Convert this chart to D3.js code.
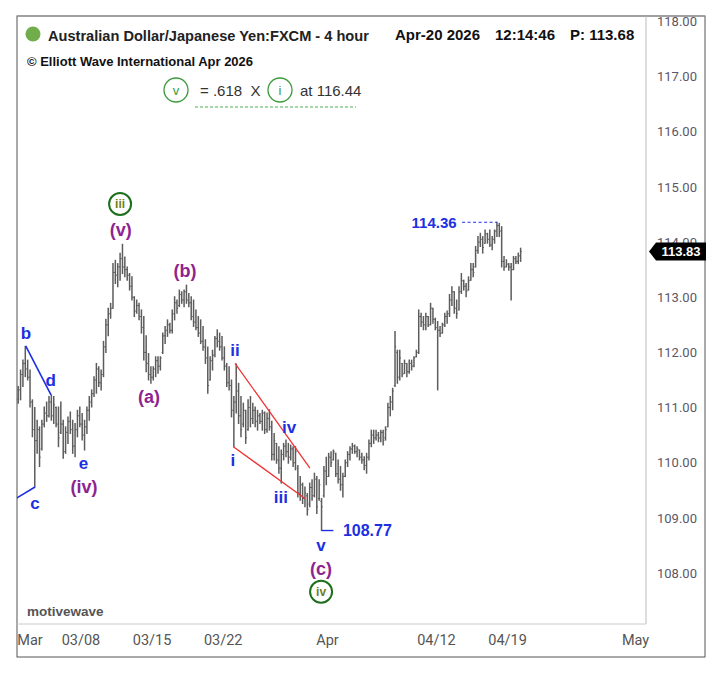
<!DOCTYPE html>
<html>
<head>
<meta charset="utf-8">
<script src="https://cdn.jsdelivr.net/npm/d3@7"></script>
<style>
  body { margin: 0; background: #fff; }
  svg { display: block; }
</style>
</head>
<body>
<div id="chart"></div>
<script>
// AUD/JPY 4 hour bars, one entry per bar
const barOpen = [
  111.15,111.32,111.60,111.80,111.70,111.55,111.10,110.60,110.40,110.60,
  110.25,110.70,110.90,110.85,111.10,110.85,111.00,110.70,110.55,110.70,
  110.20,110.55,110.75,110.60,110.30,110.60,110.85,110.70,110.50,110.65,
  110.95,111.10,111.25,111.50,111.70,111.45,111.60,112.10,112.50,112.70,
  112.80,113.45,113.40,113.55,113.70,113.55,113.50,113.40,113.20,113.00,
  112.75,112.85,112.65,112.45,112.00,111.80,111.60,111.55,111.70,111.85,
  111.75,112.00,112.30,112.40,112.50,112.40,112.70,112.90,112.85,113.05,
  112.95,113.10,112.95,112.90,112.65,112.55,112.45,112.35,112.20,112.10,
  111.90,111.50,111.85,111.95,112.25,112.20,112.10,111.90,111.75,111.45,
  111.40,110.95,111.10,111.30,110.85,110.70,110.95,110.60,111.00,110.80,
  110.95,110.75,110.85,110.75,110.90,110.60,110.80,110.65,110.15,110.35,
  110.05,109.90,110.15,110.30,110.20,110.10,110.25,110.00,109.90,109.45,
  109.60,109.35,109.40,109.25,109.55,109.40,109.70,109.35,109.30,109.40,
  109.85,109.75,110.10,110.05,110.17,109.80,109.70,109.60,109.75,110.00,
  110.15,110.25,110.30,110.20,110.23,110.10,110.05,109.95,110.10,110.35,
  110.50,110.45,110.50,110.45,110.55,110.45,110.65,111.00,111.10,111.40,
  112.00,111.55,111.80,111.62,111.80,111.65,111.80,111.75,111.92,112.00,
  112.65,112.55,112.50,112.65,112.50,112.80,112.60,112.45,112.40,112.35,
  112.50,112.65,112.70,112.95,113.10,112.80,112.77,113.10,113.30,113.20,
  113.13,113.31,113.50,113.55,113.85,114.00,114.05,113.98,114.15,114.05,
  113.95,114.05,114.20,114.30,114.20,113.65,113.55,113.60,113.55,113.50,
  113.70,113.65,113.75
];
const barHigh = [
  111.38,111.68,111.86,112.11,111.86,111.68,111.14,111.00,110.77,110.65,
  110.77,111.01,111.10,111.20,111.23,111.20,111.01,111.01,111.10,110.77,
  110.65,110.83,110.92,110.77,110.71,110.95,111.01,110.89,110.77,111.01,
  111.20,111.32,111.56,111.80,111.74,111.68,112.20,112.60,112.80,112.89,
  113.61,113.67,113.61,113.80,113.96,113.73,113.55,113.43,113.37,113.01,
  112.95,112.89,112.77,112.65,112.30,111.98,111.74,111.74,111.92,111.92,
  111.92,112.35,112.47,112.59,112.53,112.77,113.01,112.95,113.13,113.10,
  113.13,113.22,113.07,113.01,112.95,112.77,112.65,112.59,112.47,112.23,
  112.10,111.92,112.04,112.29,112.41,112.35,112.29,112.10,111.80,111.74,
  111.50,111.20,111.79,111.44,111.20,111.08,110.95,111.14,111.20,111.08,
  111.01,110.95,110.89,110.95,110.92,110.90,110.96,110.75,110.53,110.35,
  110.29,110.23,110.35,110.41,110.35,110.32,110.29,110.29,109.95,109.75,
  109.63,109.56,109.44,109.63,109.69,109.81,109.75,109.69,109.35,109.93,
  110.10,110.17,110.20,110.23,110.17,110.05,109.93,109.81,110.05,110.20,
  110.29,110.35,110.32,110.29,110.23,110.17,110.11,110.17,110.41,110.59,
  110.59,110.59,110.55,110.59,110.59,110.65,111.08,111.20,111.35,112.38,
  112.04,112.04,111.80,111.86,111.80,111.86,111.86,111.92,112.04,112.77,
  112.71,112.65,112.71,112.65,112.89,112.80,112.62,112.56,112.47,112.53,
  112.71,112.75,113.05,113.19,113.10,112.95,113.19,113.43,113.31,113.25,
  113.37,113.61,113.61,113.92,114.10,114.16,114.10,114.22,114.16,114.22,
  114.10,114.22,114.36,114.34,114.28,113.74,113.68,113.61,113.61,113.74,
  113.74,113.80,113.89
];
const barLow = [
  111.08,111.14,111.38,111.56,111.50,111.01,110.47,109.56,110.17,109.93,
  110.23,110.65,110.75,110.83,110.77,110.71,110.65,110.29,110.53,110.08,
  110.17,110.35,110.53,110.17,110.11,110.47,110.65,110.41,110.23,110.53,
  110.77,111.01,111.20,111.26,111.38,111.32,111.56,112.00,112.30,112.62,
  112.80,113.25,113.19,113.31,113.43,113.37,113.31,113.13,112.95,112.65,
  112.71,112.59,112.35,111.86,111.65,111.50,111.44,111.50,111.56,111.62,
  111.68,111.98,112.16,112.29,112.35,112.35,112.59,112.71,112.83,112.89,
  112.83,112.89,112.83,112.59,112.47,112.41,112.29,112.16,112.04,111.80,
  111.26,111.50,111.68,111.92,112.10,112.04,111.86,111.68,111.38,111.32,
  110.83,110.29,110.90,110.71,110.47,110.65,110.35,110.59,110.65,110.71,
  110.65,110.59,110.71,110.59,110.53,110.55,110.59,110.05,110.05,109.99,
  109.81,109.63,110.05,110.11,109.99,110.05,109.93,109.87,109.38,109.32,
  109.26,109.20,109.05,109.20,109.32,109.38,109.08,109.32,108.77,109.38,
  109.60,109.75,109.93,110.05,109.75,109.63,109.50,109.38,109.75,109.93,
  110.05,110.17,110.17,110.11,110.05,109.99,109.87,109.81,110.05,110.29,
  110.35,110.41,110.38,110.38,110.32,110.41,110.65,110.85,110.96,111.38,
  111.44,111.50,111.56,111.62,111.56,111.62,111.68,111.74,111.92,111.98,
  112.47,112.41,112.41,112.47,112.50,112.53,112.41,111.32,112.29,112.35,
  112.47,112.53,112.65,112.85,112.71,112.62,112.77,113.07,113.13,113.01,
  113.13,113.31,113.37,113.55,113.80,113.92,113.80,113.98,113.98,113.92,
  113.86,113.98,114.10,114.10,113.55,113.49,113.55,113.49,112.95,113.50,
  113.61,113.61,113.65
];
const barClose = [
  111.32,111.60,111.80,111.70,111.55,111.10,110.60,110.40,110.60,110.10,
  110.70,110.90,110.85,111.10,110.85,111.05,110.70,110.45,110.70,110.20,
  110.55,110.75,110.60,110.30,110.60,110.85,110.70,110.50,110.65,110.95,
  111.10,111.25,111.50,111.70,111.45,111.60,112.10,112.50,112.70,112.80,
  113.45,113.40,113.55,113.70,113.55,113.50,113.40,113.20,113.00,112.75,
  112.85,112.65,112.45,112.00,111.80,111.60,111.55,111.70,111.85,111.75,
  111.90,112.30,112.40,112.50,112.40,112.70,112.90,112.80,113.05,112.95,
  113.10,112.95,112.90,112.65,112.55,112.45,112.35,112.20,112.10,111.90,
  111.40,111.85,111.95,112.25,112.20,112.10,111.90,111.75,111.45,111.40,
  110.95,111.10,111.30,110.85,110.60,110.95,110.45,111.00,110.80,110.95,
  110.75,110.85,110.75,110.90,110.60,110.80,110.65,110.15,110.40,110.05,
  109.90,110.15,110.30,110.20,110.10,110.25,110.00,110.20,109.45,109.60,
  109.35,109.45,109.15,109.55,109.40,109.70,109.20,109.60,109.20,109.85,
  109.75,110.10,110.00,110.20,109.80,109.70,109.60,109.75,110.00,110.15,
  110.25,110.30,110.20,110.25,110.10,110.05,109.95,110.10,110.35,110.50,
  110.45,110.50,110.45,110.55,110.40,110.60,111.00,111.10,111.30,112.10,
  111.55,111.90,111.60,111.80,111.65,111.80,111.75,111.90,112.00,112.65,
  112.55,112.50,112.65,112.50,112.80,112.60,112.45,112.40,112.35,112.50,
  112.65,112.70,112.95,113.10,112.80,112.70,113.10,113.30,113.20,113.10,
  113.30,113.50,113.45,113.85,114.00,114.05,113.90,114.15,114.05,113.95,
  114.05,114.20,114.30,114.20,113.65,113.55,113.60,113.55,113.50,113.70,
  113.65,113.75,113.83
];

// axis labels (x given in bar units)
const priceTicks = [108,109,110,111,112,113,114,115,116,117,118];
const dateLabels = ["Mar","03/08","03/15","03/22","Apr","04/12","04/19","May"];
const dateAt = [5, 26.5, 56.5, 86.5, 130.5, 176.5, 206.5, 260.5];

// wave count labels: text, bar, price, colour group
const waveLabels = [
  ["b",3.3,112.36,"blue"],["d",13.7,111.50,"blue"],["c",7.1,109.27,"blue"],
  ["e",27.5,109.99,"blue"],["(iv)",27.8,109.56,"purple"],["(v)",43.3,114.22,"purple"],
  ["(a)",55.2,111.20,"purple"],["(b)",70.4,113.48,"purple"],["ii",91.5,112.04,"blue"],
  ["i",90.6,110.05,"blue"],["iv",114.3,110.65,"blue"],["iii",110.8,109.38,"blue"],
  ["v",127.8,108.51,"blue"],["(c)",127.8,108.09,"purple"]
];
const circledLabels = [["iii",43.0,114.69],["iv",127.8,107.66]];

// wave lines [bar, price] pairs
const blueLines = [
  [[3.17,112.12],[13.85,111.23]],
  [[-1,109.35],[7.1,109.56]]
];
const redLines = [
  [[90.8,110.29],[121.0,109.35]],
  [[91.5,111.80],[123.1,109.90]]
];

const lowBar = 128, lowPrice = 108.77;
const highBar = 202, highPrice = 114.36;
const lastPrice = 113.83;

const W = 724, H = 678;
const plot = {l: 17, t: 16, r: 646, b: 624};
const colors = {blue: "#1d2fe3", purple: "#8e2390"};

const svg = d3.select("#chart").append("svg")
  .attr("width", W).attr("height", H)
  .style("font-family", "'Liberation Sans', Arial, sans-serif");

const x = d3.scaleLinear().domain([-0.5, 264.9]).range([plot.l, plot.r]);
const y = d3.scaleLinear().domain([107.075, 118.10]).range([plot.b, plot.t]);

const defs = svg.append("defs");
defs.append("clipPath").attr("id", "plotclip")
  .append("rect").attr("x", plot.l).attr("y", plot.t)
  .attr("width", plot.r - plot.l).attr("height", plot.b - plot.t);
defs.append("clipPath").attr("id", "axisclip")
  .append("rect").attr("x", plot.r).attr("y", plot.t + 1)
  .attr("width", 60).attr("height", plot.b - plot.t);

// frames
svg.append("rect").attr("x", plot.l).attr("y", plot.t)
  .attr("width", 705 - plot.l).attr("height", 657 - plot.t)
  .attr("fill", "#fff").attr("stroke", "#555").attr("stroke-width", 1);
svg.append("line").attr("x1", plot.l).attr("x2", 705).attr("y1", plot.t).attr("y2", plot.t)
  .attr("stroke", "#999");
svg.append("line").attr("x1", plot.r).attr("x2", plot.r).attr("y1", plot.t).attr("y2", plot.b)
  .attr("stroke", "#bbb");
svg.append("line").attr("x1", plot.l).attr("x2", plot.r).attr("y1", plot.b).attr("y2", plot.b)
  .attr("stroke", "#ccc");

// price axis (clipped at the top border like the original)
const yAxis = svg.append("g").attr("clip-path", "url(#axisclip)")
  .append("g")
  .attr("transform", "translate(" + plot.r + ",0)")
  .call(d3.axisRight(y).tickValues(priceTicks).tickFormat(d3.format(".2f")).tickSize(0).tickPadding(11));
yAxis.select(".domain").remove();
yAxis.selectAll("text")
  .style("font-family", "Roboto, sans-serif").style("font-size", "13px").attr("fill", "#5b5768");

// date labels
svg.append("g").selectAll("text")
  .data(dateLabels).enter().append("text")
  .attr("x", (d, i) => x(dateAt[i]))
  .attr("y", 645)
  .attr("text-anchor", "middle")
  .style("font-family", "Roboto, sans-serif").style("font-size", "14.5px")
  .attr("fill", "#555")
  .text(d => d);

const g = svg.append("g").attr("clip-path", "url(#plotclip)");

// OHLC bars
const bars = g.append("g").attr("stroke", "#5c5c5c").attr("stroke-width", 1.5);
barHigh.forEach((h, i) => {
  const cx = x(i);
  bars.append("line").attr("x1", cx).attr("x2", cx).attr("y1", y(h) - 0.5).attr("y2", y(barLow[i]) + 0.5);
  bars.append("line").attr("x1", cx - 1.2).attr("x2", cx).attr("y1", y(barOpen[i])).attr("y2", y(barOpen[i]))
    .attr("stroke-width", 1);
  bars.append("line").attr("x1", cx).attr("x2", cx + 1.2).attr("y1", y(barClose[i])).attr("y2", y(barClose[i]))
    .attr("stroke-width", 1);
});

const line = d3.line().x(d => x(d[0])).y(d => y(d[1]));
blueLines.forEach(l => g.append("path").attr("d", line(l))
  .attr("fill", "none").attr("stroke", colors.blue).attr("stroke-width", 1.6));
redLines.forEach(l => g.append("path").attr("d", line(l))
  .attr("fill", "none").attr("stroke", "#ee3333").attr("stroke-width", 1.3));

// low marker 108.77
g.append("line").attr("x1", x(lowBar)).attr("x2", x(lowBar + 5))
  .attr("y1", y(lowPrice)).attr("y2", y(lowPrice))
  .attr("stroke", colors.blue).attr("stroke-width", 1.4);
g.append("text").attr("x", x(lowBar + 9)).attr("y", y(lowPrice)).attr("dy", "0.35em")
  .attr("fill", colors.blue).style("font-size", "16px").style("font-weight", "bold")
  .text(lowPrice.toFixed(2));

// high marker 114.36
g.append("line").attr("x1", x(highBar - 14.7)).attr("x2", x(highBar))
  .attr("y1", y(highPrice)).attr("y2", y(highPrice))
  .attr("stroke", colors.blue).attr("stroke-width", 1).attr("stroke-dasharray", "3,2.5");
g.append("text").attr("x", x(highBar - 17)).attr("y", y(highPrice)).attr("dy", "0.35em")
  .attr("text-anchor", "end")
  .attr("fill", colors.blue).style("font-size", "15px").style("font-weight", "bold")
  .text(highPrice.toFixed(2));

// wave labels
g.append("g").selectAll("text")
  .data(waveLabels).enter().append("text")
  .attr("x", d => x(d[1])).attr("y", d => y(d[2])).attr("dy", "0.36em")
  .attr("text-anchor", "middle")
  .attr("fill", d => colors[d[3]])
  .style("font-size", d => d[3] == "purple" ? "18px" : "17px")
  .style("font-weight", "bold")
  .text(d => d[0]);

const circ = g.append("g").selectAll("g")
  .data(circledLabels).enter().append("g")
  .attr("transform", d => "translate(" + x(d[1]) + "," + y(d[2]) + ")");
circ.append("circle").attr("r", 11).attr("fill", "#fff")
  .attr("stroke", "#1c701c").attr("stroke-width", 2);
circ.append("text").attr("text-anchor", "middle").attr("dy", "0.36em")
  .attr("fill", "#6e7f1e").style("font-size", "12px").style("font-weight", "bold")
  .text(d => d[0]);

// last price tag, drawn over the 114.00 label as in the original
const ty = y(lastPrice);
svg.append("path")
  .attr("d", "M649," + ty + " L656," + (ty - 9) + " L706," + (ty - 9) + " L706," + (ty + 9) + " L656," + (ty + 9) + " Z")
  .attr("fill", "#000");
svg.append("text").attr("x", 681).attr("y", ty).attr("dy", "0.36em")
  .attr("text-anchor", "middle").attr("fill", "#fff")
  .style("font-size", "13px").style("font-weight", "bold")
  .text(lastPrice.toFixed(2));

// header
svg.append("circle").attr("cx", 33).attr("cy", 34).attr("r", 7.5).attr("fill", "#72ad4c");
svg.append("text").attr("x", 48).attr("y", 40.5)
  .style("font-size", "14.6px").style("font-weight", "bold").attr("fill", "#222")
  .text("Australian Dollar/Japanese Yen:FXCM - 4 hour");
const hdr = svg.append("g").style("font-size", "15px").style("font-weight", "bold").attr("fill", "#111");
hdr.append("text").attr("x", 395).attr("y", 40).text("Apr-20 2026");
hdr.append("text").attr("x", 495).attr("y", 40).text("12:14:46");
hdr.append("text").attr("x", 570).attr("y", 40).text("P: 113.68");

svg.append("text").attr("x", 27).attr("y", 65.5)
  .style("font-size", "13px").style("font-weight", "bold").attr("fill", "#111")
  .text("\u00a9 Elliott Wave International Apr 2026");

// fib note
const fib = svg.append("g");
[["v", 176], ["i", 280]].forEach(c => {
  fib.append("circle").attr("cx", c[1]).attr("cy", 90).attr("r", 12)
    .attr("fill", "#fff").attr("stroke", "#3d9a3d").attr("stroke-width", 1.3);
  fib.append("text").attr("x", c[1]).attr("y", 90).attr("dy", "0.36em")
    .attr("text-anchor", "middle").attr("fill", "#3d9a3d").style("font-size", "13px")
    .text(c[0]);
});
fib.append("text").attr("x", 200).attr("y", 95.5).style("font-size", "15px").attr("fill", "#333")
  .attr("xml:space", "preserve").text("= .618  X");
fib.append("text").attr("x", 300).attr("y", 95.5).style("font-size", "15px").attr("fill", "#333")
  .text("at 116.44");
fib.append("line").attr("x1", 195).attr("x2", 356).attr("y1", 107).attr("y2", 107)
  .attr("stroke", "#4caf50").attr("stroke-width", 1.2).attr("stroke-dasharray", "3,2");

svg.append("text").attr("x", 27).attr("y", 616)
  .style("font-size", "13.5px").style("font-weight", "bold").attr("fill", "#555")
  .text("motivewave");
</script>
</body>
</html>
